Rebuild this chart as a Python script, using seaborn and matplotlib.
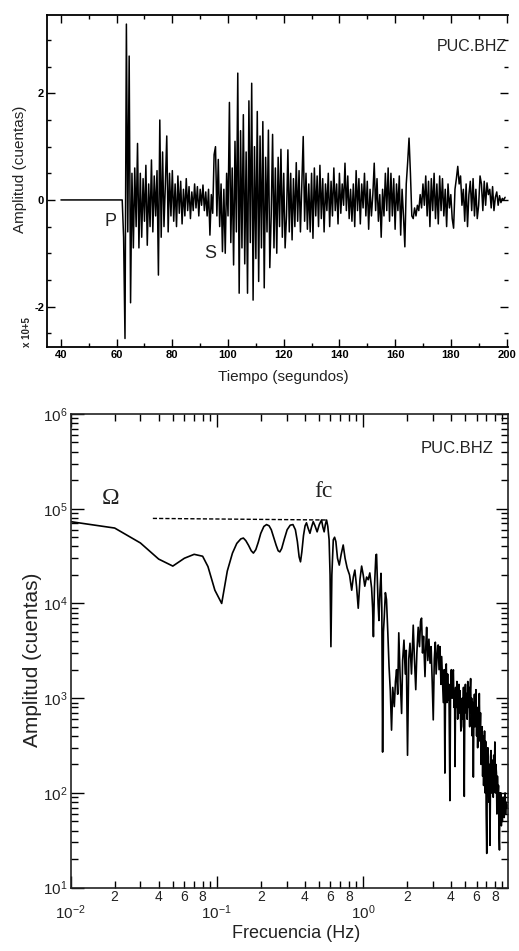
import numpy as np
import pandas as pd
import matplotlib
matplotlib.use('Agg')
import matplotlib.pyplot as plt
import seaborn as sns
from matplotlib.ticker import MultipleLocator, LogLocator, FuncFormatter, NullFormatter

sns.set_theme(style='ticks')
plt.rcParams['font.family'] = ['Liberation Sans', 'DejaVu Sans']
plt.rcParams['mathtext.default'] = 'regular'
plt.rcParams['axes.unicode_minus'] = False

# --- sismograma PUC.BHZ (amplitud en unidades de 1e5 cuentas) ---
trace_t0 = 62.0   # s, inicio de la ventana con señal
trace_dt = 0.5    # s, paso de muestreo
pre_t = [40.0]    # tramo plano antes de la P
pre_amp = [0.0]
trace_amp = [
    0.0, -0.7, -2.6, 3.3, -0.6, 2.7, -1.93, 0.5, -0.9, 0.6,            # 62.0
    -0.5, 1.06, -0.9, 0.5, -0.7, 0.4, -0.4, 0.65, -0.85, 0.3,          # 67.0
    -0.5, 0.75, -0.6, 0.45, -0.3, 0.55, -1.41, 1.5, -0.7, 0.9,         # 72.0
    -0.5, 0.3, 1.2, -0.6, 0.5, -0.3, 0.55, -0.4, 0.3, -0.5,            # 77.0
    0.45, -0.25, 0.35, -0.45, 0.2, -0.3, 0.4, -0.2, 0.25, -0.35,       # 82.0
    0.15, -0.2, 0.3, -0.15, 0.25, -0.3, 0.2, -0.1, 0.28, -0.2,         # 87.0
    0.15, -0.3, 0.2, -0.66, 0.1, -0.25, 0.85, 1.0, -0.3, 0.76,         # 92.0
    -0.5, 0.3, -0.97, 0.2, -1.0, 0.5, -0.3, 1.83, -0.8, 0.6,           # 97.0
    -1.22, 1.1, -0.6, 2.38, -1.75, 1.3, -0.9, 1.6, -1.2, 0.9,          # 102.0
    -1.75, 1.86, -0.8, 2.19, -1.88, 1.0, -1.1, 1.66, -1.53, 1.2,       # 107.0
    -0.9, 1.47, -1.65, 0.8, -0.6, 1.31, -1.27, -0.3, 1.23, -0.9,       # 112.0
    0.6, -1.0, 0.8, -0.5, 0.95, -0.7, 0.5, -0.9, -0.3, 0.94,           # 117.0
    -0.6, 0.5, -0.75, 0.4, -0.5, 0.7, -0.4, 0.55, -0.6, 0.3,           # 122.0
    1.19, -0.4, 0.5, -0.55, 0.3, -0.6, 0.5, -0.72, 0.6, -0.3,          # 127.0
    0.45, -0.5, 0.65, -0.35, 0.4, -0.6, 0.3, -0.2, 0.5, -0.5,          # 132.0
    0.35, -0.3, 0.6, -0.2, 0.3, -0.45, 0.5, -0.25, 0.3, -0.1,          # 137.0
    0.69, -0.2, 0.45, -0.35, 0.2, -0.4, 0.3, -0.5, 0.55, -0.2,         # 142.0
    0.4, -0.45, 0.3, -0.15, 0.5, -0.3, 0.35, -0.55, 0.2, -0.3,         # 147.0
    0.1, 0.69, -0.2, 0.4, -0.4, 0.1, -0.7, 0.2, -0.3, 0.5,             # 152.0
    -0.2, 0.6, -0.4, 0.5, -0.3, 0.4, -0.55, 0.3, -0.2, 0.45,           # 157.0
    -0.66, 0.2, -0.3, -0.88, 0.3, 0.7, 1.16, 0.5, -0.3, -0.35,         # 162.0
    -0.15, -0.3, -0.1, -0.2, 0.1, -0.15, 0.3, -0.1, 0.45, -0.3,        # 167.0
    0.35, -0.5, 0.4, -0.2, 0.5, -0.35, 0.3, -0.45, 0.45, -0.2,         # 172.0
    0.4, -0.3, 0.2, -0.5, 0.3, -0.15, 0.1, -0.35, -0.53, 0.2,          # 177.0
    0.4, 0.63, 0.3, 0.45, -0.1, 0.2, -0.4, 0.3, -0.5, 0.1,             # 182.0
    0.35, -0.2, 0.4, -0.3, 0.2, -0.35, -0.1, 0.45, 0.3, -0.2,          # 187.0
    0.35, -0.1, 0.32, 0.1, 0.2, -0.15, 0.25, -0.2, 0.05, 0.15,         # 192.0
    -0.1, 0.08, -0.05, 0.03, 0.0, 0.05,                                # 197.0
]

# --- espectro de amplitud ---
spec_freq = [
    0.01, 0.02, 0.03, 0.04, 0.05, 0.06, 0.07, 0.08, 0.087, 0.097,
    0.108, 0.118, 0.128, 0.137, 0.146, 0.152, 0.158, 0.165, 0.172, 0.178,
    0.185, 0.192, 0.2, 0.21, 0.219, 0.228, 0.236, 0.245, 0.255, 0.263,
    0.27, 0.278, 0.29, 0.303, 0.318, 0.332, 0.345, 0.356, 0.366, 0.374,
    0.382, 0.392, 0.402, 0.411, 0.422, 0.434, 0.445, 0.457, 0.47, 0.486,
    0.503, 0.521, 0.532, 0.543, 0.553, 0.564, 0.575, 0.587, 0.596, 0.604,
    0.613, 0.627, 0.64, 0.653, 0.67, 0.689, 0.71, 0.733, 0.755, 0.78,
    0.81, 0.838, 0.86, 0.881, 0.905, 0.929, 0.955, 0.98, 1.005, 1.03,
    1.06, 1.087, 1.115, 1.147, 1.165, 1.18, 1.2, 1.227, 1.24, 1.255,
    1.27, 1.287, 1.31, 1.33, 1.347, 1.364, 1.382, 1.4, 1.425, 1.45,
    1.48, 1.51, 1.54, 1.57, 1.6, 1.64, 1.67, 1.7, 1.73, 1.76,
    1.8, 1.84, 1.87, 1.91, 1.95, 1.98, 2.02, 2.06, 2.1, 2.15,
    2.21, 2.25, 2.3, 2.34, 2.39, 2.44, 2.48, 2.52, 2.56, 2.6,
    2.66, 2.7, 2.73, 2.78, 2.83, 2.88, 2.93, 2.98, 3.03, 3.08,
    3.13, 3.17, 3.2, 3.25, 3.28, 3.32, 3.37, 3.42, 3.46, 3.5,
    3.55, 3.6, 3.64, 3.68, 3.72, 3.76, 3.8, 3.84, 3.88, 3.94,
    3.98, 4.03, 4.08, 4.12, 4.16, 4.2, 4.24, 4.27, 4.31, 4.36,
    4.4, 4.45, 4.49, 4.54, 4.58, 4.62, 4.68, 4.74, 4.78, 4.84,
    4.88, 4.94, 4.98, 5.03, 5.08, 5.12, 5.17, 5.22, 5.27, 5.32,
    5.38, 5.42, 5.46, 5.5, 5.55, 5.6, 5.65, 5.7, 5.75, 5.8,
    5.85, 5.9, 5.94, 6.0, 6.05, 6.1, 6.15, 6.2, 6.26, 6.32,
    6.38, 6.44, 6.5, 6.55, 6.6, 6.65, 6.7, 6.75, 6.8, 6.86,
    6.92, 6.98, 7.04, 7.1, 7.16, 7.23, 7.28, 7.34, 7.41, 7.47,
    7.53, 7.6, 7.66, 7.73, 7.8, 7.86, 7.93, 8.0, 8.06, 8.13,
    8.2, 8.26, 8.33, 8.4, 8.47, 8.53, 8.6, 8.66, 8.73, 8.8,
    8.86, 8.93, 9.0, 9.06, 9.13, 9.2, 9.27, 9.33, 9.4, 9.47,
    9.53, 9.6, 9.7, 9.8,
]
spec_amp = [
    73000, 62500, 43500, 29400, 24800, 30000, 33000, 31500, 24500, 13800,
    10000, 22000, 34000, 43000, 48000, 49000, 46000, 41000, 36000, 34000,
    37000, 44000, 55000, 65000, 68000, 66000, 60000, 50000, 41000, 36000,
    35000, 38000, 48000, 60000, 67000, 68000, 60000, 45000, 31000, 27500,
    35000, 52000, 66000, 71000, 62000, 55000, 64000, 73000, 66000, 57000,
    68000, 76000, 64000, 57000, 68000, 76000, 65000, 47000, 20000, 3500,
    20000, 47000, 50000, 45000, 30000, 25400, 33000, 41400, 30000, 23700,
    20000, 13800, 19000, 22500, 15000, 8900, 18000, 24800, 20000, 15200,
    19000, 17800, 21000, 14500, 9000, 4460, 15000, 32500, 33000, 18000,
    10000, 6600, 14000, 20800, 9000, 270, 5000, 7200, 13000, 11000,
    5000, 2140, 1200, 460, 1300, 815, 1500, 2000, 1100, 4900,
    1600, 690, 2500, 4100, 1800, 3200, 250, 2600, 3800, 1800,
    5900, 2700, 1230, 3000, 5600, 3500, 6500, 7000, 3000, 4500,
    1690, 3800, 5600, 2500, 4200, 2340, 3500, 1500, 590, 2600,
    3900, 1800, 2340, 3600, 3640, 2000, 3500, 1400, 2750, 1700,
    900, 2000, 162, 1500, 2300, 900, 1800, 950, 1400, 83,
    1200, 2000, 1000, 1700, 1990, 800, 1200, 190, 1300, 800,
    1500, 600, 815, 1400, 700, 1200, 450, 505, 1000, 600,
    1300, 92, 800, 1400, 700, 1120, 600, 1500, 800, 1300,
    500, 1200, 1610, 700, 1000, 400, 900, 147, 700, 1100,
    500, 1000, 1230, 400, 800, 300, 700, 350, 1120, 400,
    700, 200, 265, 500, 150, 400, 120, 240, 450, 100,
    350, 60, 23, 150, 300, 240, 80, 200, 28, 150,
    280, 100, 200, 222, 90, 250, 120, 345, 100, 200,
    162, 60, 150, 90, 120, 40, 25, 100, 60, 100,
    45, 90, 50, 80, 62, 90, 55, 85, 100, 60,
    80, 70, 75, 70,
]

# nivel plano Omega hasta la frecuencia de esquina fc
omega_freq = [0.0365, 0.57]
omega_amp = [79000, 76000]

trace_t = pre_t + list(trace_t0 + trace_dt * np.arange(len(trace_amp)))
seis = pd.DataFrame({'t': trace_t, 'a': pre_amp + trace_amp})
spec = pd.DataFrame({'f': spec_freq, 'A': spec_amp})
flat = pd.DataFrame({'f': omega_freq, 'A': omega_amp})

fig = plt.figure(figsize=(5.19, 9.51), dpi=100)
ax1 = fig.add_axes([0.0906, 0.6351, 0.888, 0.3491])
ax2 = fig.add_axes([0.1362, 0.0666, 0.8426, 0.4981])

narrow = ['Liberation Sans Narrow', 'Liberation Sans', 'DejaVu Sans']

# ---------- panel superior: sismograma ----------
sns.lineplot(data=seis, x='t', y='a', ax=ax1, color='black', lw=1.1,
             estimator=None, sort=False)
ax1.set_xlim(35, 200.5)
ax1.set_ylim(-2.76, 3.47)
ax1.xaxis.set_major_locator(MultipleLocator(20))
ax1.xaxis.set_minor_locator(MultipleLocator(10))
ax1.yaxis.set_major_locator(MultipleLocator(2))
ax1.yaxis.set_minor_locator(MultipleLocator(0.5))
ax1.tick_params(which='both', direction='in', top=True, right=True,
                width=1.0, colors='black')
ax1.tick_params(which='major', length=6, pad=2, labelsize=8)
ax1.tick_params(which='minor', length=3)
for lab in ax1.get_xticklabels() + ax1.get_yticklabels():
    lab.set_family(narrow)
    lab.set_fontweight('bold')
ax1.spines['right'].set_visible(False)
for s in ['left', 'top', 'bottom']:
    ax1.spines[s].set_linewidth(1.3)
    ax1.spines[s].set_color('black')
ax1.set_xlabel('Tiempo (segundos)', fontsize=11, color='#222222')
ax1.set_ylabel('Amplitud (cuentas)', fontsize=11, color='#222222')
ax1.xaxis.set_label_coords(0.512, -0.069)
ax1.yaxis.set_label_coords(-0.043, 0.536)
fig.text(27 / 519, 1 - 332 / 951, 'x 10+5', rotation=90, fontsize=7,
         family=narrow, fontweight='bold', ha='center', va='center')
ax1.text(0.137, 0.377, 'P', transform=ax1.transAxes, fontsize=13,
         ha='center', va='center', color='#222222')
ax1.text(0.354, 0.283, 'S', transform=ax1.transAxes, fontsize=13,
         ha='center', va='center', color='#222222')
ax1.text(0.998, 0.904, 'PUC.BHZ', transform=ax1.transAxes, fontsize=11.5,
         ha='right', va='center', color='#222222')

# ---------- panel inferior: espectro ----------
sns.lineplot(data=spec, x='f', y='A', ax=ax2, color='black', lw=1.2,
             estimator=None, sort=False)
sns.lineplot(data=flat, x='f', y='A', ax=ax2, color='black', lw=1.0,
             linestyle=(0, (3, 1.5)), estimator=None, sort=False)
ax2.set(xscale='log', yscale='log')
ax2.set_xlim(0.01, 9.84)
ax2.set_ylim(10, 1e6)
ax2.xaxis.set_major_locator(LogLocator(base=10, numticks=10))
ax2.xaxis.set_minor_locator(LogLocator(base=10, subs=np.arange(2, 10), numticks=20))
ax2.yaxis.set_major_locator(LogLocator(base=10, numticks=10))
ax2.yaxis.set_minor_locator(LogLocator(base=10, subs=np.arange(2, 10), numticks=20))
dec_fmt = FuncFormatter(lambda v, p: r'$10^{%d}$' % int(round(np.log10(v))))
ax2.xaxis.set_major_formatter(dec_fmt)
ax2.yaxis.set_major_formatter(dec_fmt)


def minor_lab(v, p):
    d = int(round(v / 10 ** np.floor(np.log10(v) + 1e-9)))
    return str(d) if d in (2, 4, 6, 8) else ''


ax2.xaxis.set_minor_formatter(FuncFormatter(minor_lab))
ax2.yaxis.set_minor_formatter(NullFormatter())
ax2.tick_params(which='both', direction='in', top=True, right=True,
                width=1.0, colors='black', labelcolor='#222222')
ax2.tick_params(which='major', length=9, labelsize=11)
ax2.tick_params(which='minor', length=5)
ax2.tick_params(axis='x', which='major', pad=11)
ax2.tick_params(axis='x', which='minor', pad=2, labelsize=10)
ax2.tick_params(axis='y', which='major', pad=2)
for s in ax2.spines.values():
    s.set_linewidth(1.2)
    s.set_color('#222222')
ax2.set_xlabel('Frecuencia (Hz)', fontsize=13, color='#222222')
ax2.set_ylabel('Amplitud (cuentas)', fontsize=15, color='#222222')
ax2.xaxis.set_label_coords(0.515, -0.079)
ax2.yaxis.set_label_coords(-0.066, 0.48)
ax2.text(0.966, 0.928, 'PUC.BHZ', transform=ax2.transAxes, fontsize=12,
         ha='right', va='center', color='#222222')
ax2.text(0.092, 0.8206, '\u03a9', transform=ax2.transAxes, fontsize=17,
         family='Liberation Serif', ha='center', va='center', color='#222222')
ax2.text(0.579, 0.837, 'fc', transform=ax2.transAxes, fontsize=17,
         family='Liberation Serif', ha='center', va='center', color='#222222')

fig.savefig('out.png', dpi=100)
